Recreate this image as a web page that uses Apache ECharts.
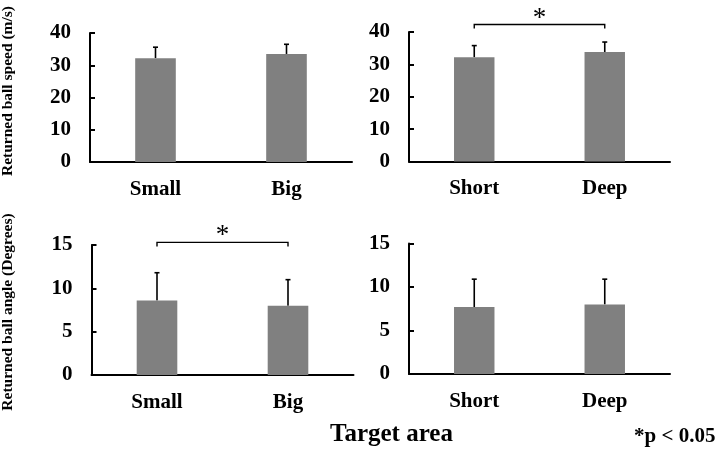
<!DOCTYPE html>
<html>
<head>
<meta charset="utf-8">
<script src="https://cdn.jsdelivr.net/npm/echarts@6/dist/echarts.min.js"></script>
<style>
  html, body { margin: 0; padding: 0; background: #fff; }
  #chart { width: 720px; height: 454px; }
</style>
</head>
<body>
<div id="chart"></div>
<script>
'use strict';
// categories
var areaSize = ['Small', 'Big'];
var areaDepth = ['Short', 'Deep'];
// returned ball speed (m/s): mean and sd
var speedSizeMean = [32.2, 33.5];
var speedSizeSd = [3.4, 3.0];
var speedDepthMean = [32.2, 33.8];
var speedDepthSd = [3.6, 3.1];
// returned ball angle (degrees): mean and sd
var angleSizeMean = [8.6, 8.0];
var angleSizeSd = [3.2, 3.0];
var angleDepthMean = [7.7, 8.0];
var angleDepthSd = [3.2, 2.9];
// level of the significance brackets
var sigSpeedDepth = 42.3;
var sigAngleSize = 15.3;

var FONT = '"Liberation Serif", "Times New Roman", serif';
var chart = echarts.init(document.getElementById('chart'));

var grids = [
  {left: 90, top: 33, width: 262, height: 129},
  {left: 409, top: 32, width: 261, height: 129.5},
  {left: 91.5, top: 245, width: 262, height: 130},
  {left: 409, top: 243.5, width: 261, height: 130.5}
];

function xAxisFor(i, cats) {
  return {
    type: 'category', gridIndex: i, data: cats,
    axisLine: {lineStyle: {color: '#000', width: 2}},
    axisTick: {show: false},
    axisLabel: {color: '#000', fontFamily: FONT, fontWeight: 'bold', fontSize: 21, margin: 17}
  };
}
function yAxisFor(i, max, interval) {
  return {
    type: 'value', gridIndex: i, min: 0, max: max, interval: interval,
    splitLine: {show: false},
    axisLine: {show: true, lineStyle: {color: '#000', width: 2}},
    axisTick: {show: true, inside: true, length: 5, lineStyle: {color: '#000', width: 2}},
    axisLabel: {color: '#000', fontFamily: FONT, fontWeight: 'bold', fontSize: 21, margin: 19}
  };
}

function barSeries(i, mean) {
  return {
    type: 'bar', xAxisIndex: i, yAxisIndex: i, data: mean,
    barWidth: '31%', itemStyle: {color: '#808080'}, silent: true
  };
}

function errorSeries(i, mean, sd) {
  var data = mean.map(function (m, k) { return [k, m, m + sd[k]]; });
  return {
    type: 'custom', xAxisIndex: i, yAxisIndex: i, data: data, silent: true,
    renderItem: function (params, api) {
      var base = api.coord([api.value(0), api.value(1)]);
      var top = api.coord([api.value(0), api.value(2)]);
      var x = base[0];
      return {
        type: 'group',
        children: [
          {type: 'line', shape: {x1: x, y1: base[1], x2: x, y2: top[1]}, style: {stroke: '#000', lineWidth: 1.6}},
          {type: 'line', shape: {x1: x - 2.5, y1: top[1], x2: x + 2.5, y2: top[1]}, style: {stroke: '#000', lineWidth: 1.6}}
        ]
      };
    }
  };
}

function sigSeries(i, level) {
  return {
    type: 'custom', xAxisIndex: i, yAxisIndex: i, data: [[0, 1, level]], silent: true, clip: false,
    renderItem: function (params, api) {
      var a = api.coord([api.value(0), api.value(2)]);
      var b = api.coord([api.value(1), api.value(2)]);
      return {
        type: 'group',
        children: [
          {type: 'polyline', shape: {points: [[a[0], a[1] + 4], [a[0], a[1]], [b[0], b[1]], [b[0], b[1] + 4]]},
            style: {stroke: '#000', lineWidth: 1.4, fill: null}},
          {type: 'text', x: (a[0] + b[0]) / 2, y: a[1] - 6,
            style: {text: '*', fontFamily: FONT, fontSize: 27, fill: '#000', align: 'center', verticalAlign: 'middle'}}
        ]
      };
    }
  };
}

function yName(text, y) {
  return {
    type: 'text', x: 8, y: y, rotation: Math.PI / 2,
    style: {text: text, fontFamily: FONT, fontWeight: 'bold', fontSize: 15.5, fill: '#000',
      align: 'center', verticalAlign: 'middle'}
  };
}

chart.setOption({
  animation: false,
  backgroundColor: '#fff',
  grid: grids,
  xAxis: [xAxisFor(0, areaSize), xAxisFor(1, areaDepth), xAxisFor(2, areaSize), xAxisFor(3, areaDepth)],
  yAxis: [yAxisFor(0, 40, 10), yAxisFor(1, 40, 10), yAxisFor(2, 15, 5), yAxisFor(3, 15, 5)],
  series: [
    barSeries(0, speedSizeMean), errorSeries(0, speedSizeMean, speedSizeSd),
    barSeries(1, speedDepthMean), errorSeries(1, speedDepthMean, speedDepthSd),
    barSeries(2, angleSizeMean), errorSeries(2, angleSizeMean, angleSizeSd),
    barSeries(3, angleDepthMean), errorSeries(3, angleDepthMean, angleDepthSd),
    sigSeries(1, sigSpeedDepth),
    sigSeries(2, sigAngleSize)
  ],
  graphic: [
    yName('Returned ball speed (m/s)', 91),
    yName('Returned ball angle (Degrees)', 312),
    {type: 'text', left: 330, top: 422,
      style: {text: 'Target area', fontFamily: FONT, fontWeight: 'bold', fontSize: 25, fill: '#000'}},
    {type: 'text', left: 634, top: 426,
      style: {text: '*p < 0.05', fontFamily: FONT, fontWeight: 'bold', fontSize: 21, fill: '#000'}}
  ]
});
</script>
</body>
</html>
